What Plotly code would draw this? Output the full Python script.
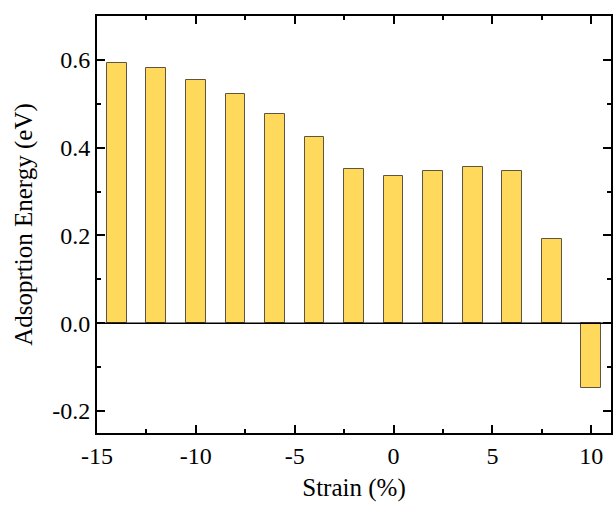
import plotly.graph_objects as go

strain = [-14, -12, -10, -8, -6, -4, -2, 0, 2, 4, 6, 8, 10]
energy = [0.594, 0.581, 0.555, 0.523, 0.477, 0.424, 0.351, 0.336, 0.346, 0.357, 0.348, 0.191, -0.147]

x_tickvals = [-15, -10, -5, 0, 5, 10]
x_ticktext = ["-15", "-10", "-5", "0", "5", "10"]
y_tickvals = [-0.2, 0.0, 0.2, 0.4, 0.6]
y_ticktext = ["-0.2", "0.0", "0.2", "0.4", "0.6"]

FAM = "Liberation Serif"
TICKF = dict(family=FAM, size=24, color="black")
TITLEF = dict(family=FAM, size=25, color="black")

fig = go.Figure()
fig.add_trace(go.Bar(
    x=strain, y=energy, width=1.0,
    marker=dict(color="#FFD95C", line=dict(color="#5E5440", width=1)),
))

fig.update_layout(
    width=615, height=510,
    margin=dict(l=97, r=2, t=16, b=77),
    plot_bgcolor="white", paper_bgcolor="white",
    font=TICKF, showlegend=False, bargap=0,
    shapes=[dict(type="line", xref="paper", x0=0, x1=1, yref="y", y0=0, y1=0,
                 line=dict(color="black", width=1.5))],
)
fig.update_xaxes(
    range=[-15, 11], tickmode="array", tickvals=x_tickvals, ticktext=x_ticktext,
    showline=True, linecolor="black", linewidth=2, mirror="allticks",
    ticks="inside", ticklen=8, tickwidth=2, tickcolor="black",
    minor=dict(ticks="inside", ticklen=4, tickwidth=2, tickcolor="black", dtick=2.5, tick0=-15),
    showgrid=False, zeroline=False,
    title=dict(text="Strain (%)", standoff=11, font=TITLEF),
    tickfont=TICKF,
)
fig.update_yaxes(
    range=[-0.25, 0.7], tickmode="array", tickvals=y_tickvals, ticktext=y_ticktext,
    showline=True, linecolor="black", linewidth=2, mirror="allticks",
    ticks="inside", ticklen=8, tickwidth=2, tickcolor="black",
    minor=dict(ticks="inside", ticklen=4, tickwidth=2, tickcolor="black", dtick=0.1, tick0=0),
    showgrid=False, zeroline=False,
    title=dict(text="Adsoprtion Energy (eV)", standoff=12, font=TITLEF),
    tickfont=TICKF,
)
fig.write_html("out.html")
